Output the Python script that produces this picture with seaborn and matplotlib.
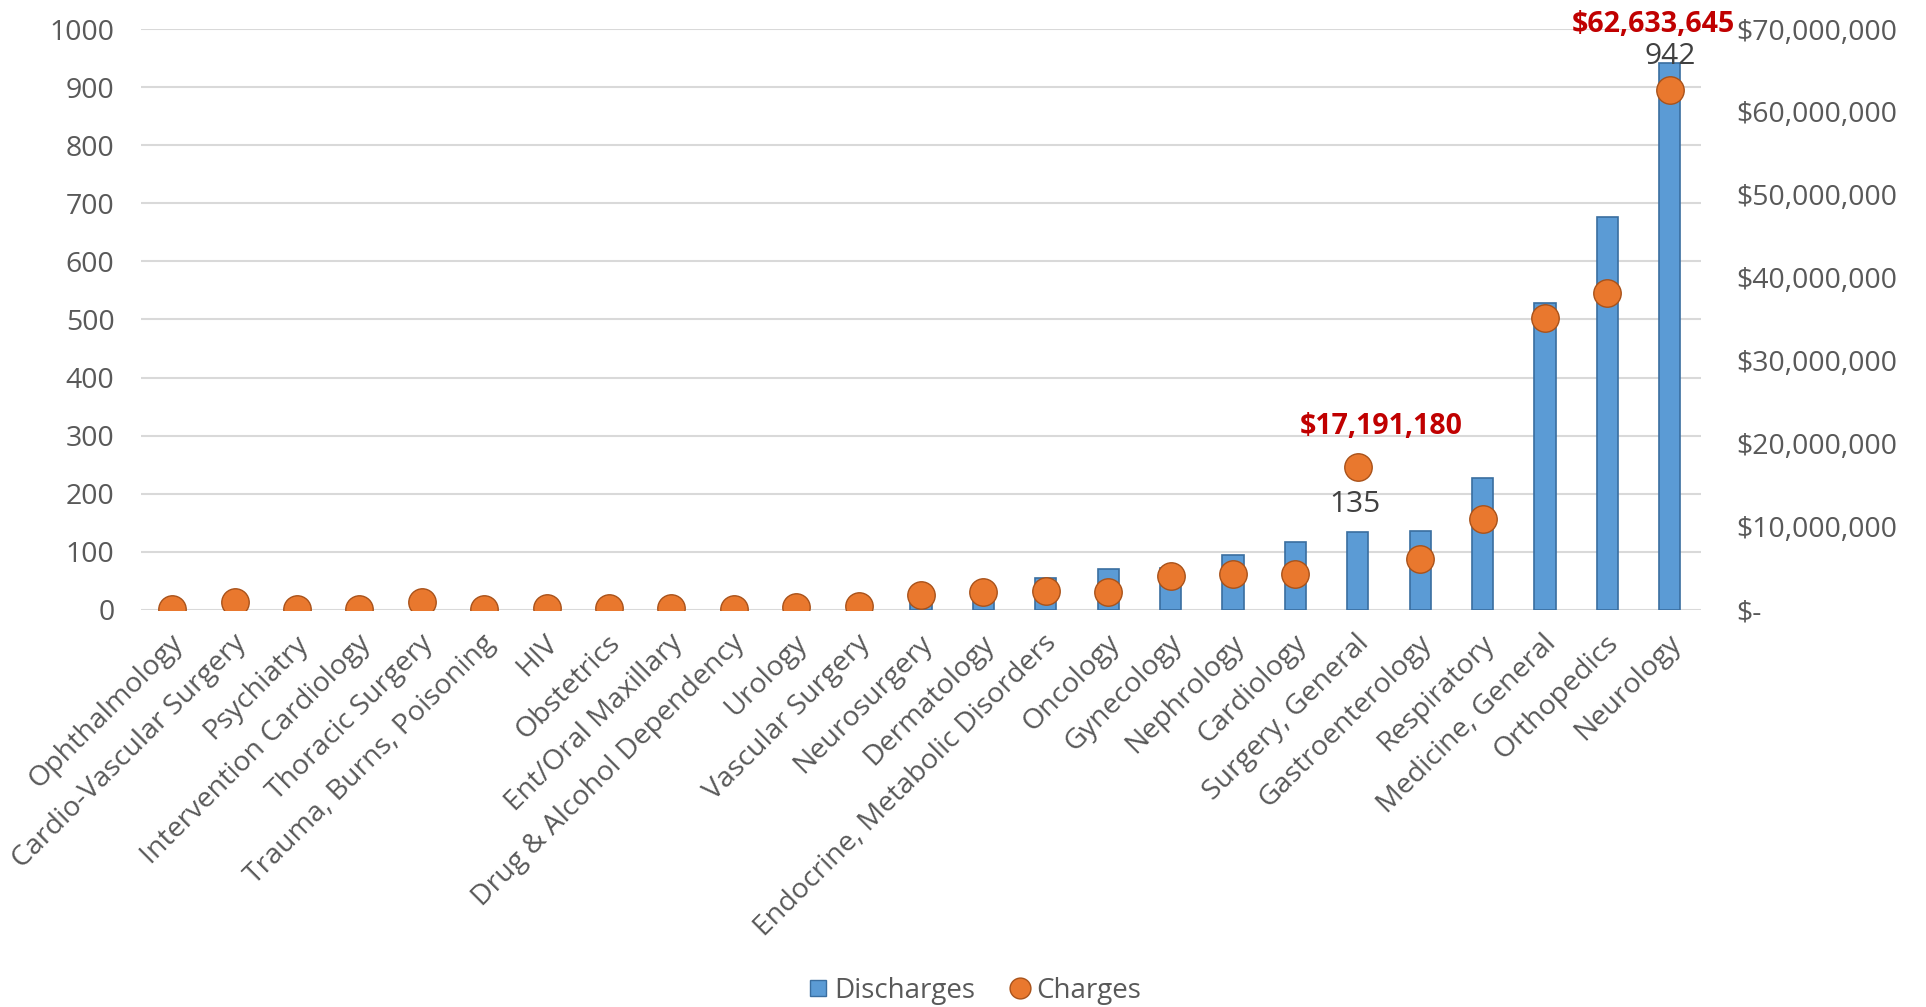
import numpy as np
import pandas as pd
import seaborn as sns
import matplotlib.pyplot as plt
from matplotlib.lines import Line2D
from matplotlib.ticker import FuncFormatter, MultipleLocator
from matplotlib.transforms import ScaledTranslation

departments = [
    "Ophthalmology", "Cardio-Vascular Surgery", "Psychiatry", "Intervention Cardiology",
    "Thoracic Surgery", "Trauma, Burns, Poisoning", "HIV", "Obstetrics",
    "Ent/Oral Maxillary", "Drug & Alcohol Dependency", "Urology", "Vascular Surgery",
    "Neurosurgery", "Dermatology", "Endocrine, Metabolic Disorders", "Oncology",
    "Gynecology", "Nephrology", "Cardiology", "Surgery, General", "Gastroenterology",
    "Respiratory", "Medicine, General", "Orthopedics", "Neurology",
]
discharges = [1, 3, 1, 1, 3, 1, 2, 2, 2, 1, 3, 4, 15, 42, 55, 71, 72, 95, 117,
              135, 136, 227, 528, 677, 942]
charges = [80000, 1000000, 120000, 160000, 1000000, 80000, 280000, 280000, 250000,
           80000, 360000, 530000, 1780000, 2150000, 2280000, 2160000, 4080000,
           4280000, 4280000, 17191180, 6080000, 10900000, 35200000, 38200000, 62633645]

df = pd.DataFrame({"dept": departments, "discharges": discharges, "charges": charges})
df["pos"] = np.arange(len(df))

plt.rcParams["font.family"] = ["Open Sans", "DejaVu Sans"]
grey = "#595959"
fs = 20.5

fig = plt.figure(figsize=(19.26, 10.07), dpi=100)
ax = fig.add_axes([0.0732, 0.3943, 0.810, 0.5769])

sns.barplot(data=df, x="dept", y="discharges", order=departments, color="#5B9BD5",
            saturation=1, width=0.34, edgecolor="#3A6EA0", linewidth=1.2, ax=ax, zorder=2)
ax.set_ylim(0, 1000)
ax.set_xlim(-0.5, len(df) - 0.5)
ax.yaxis.set_major_locator(MultipleLocator(100))
ax.grid(axis="y", color="#D9D9D9", linewidth=1.5, zorder=0)
ax.set_axisbelow(True)
ax.set_xlabel("")
ax.set_ylabel("")
for s in ax.spines.values():
    s.set_visible(False)
ax.tick_params(axis="y", length=0, pad=19, labelsize=fs, labelcolor=grey)
ax.tick_params(axis="x", length=0, pad=21, labelsize=fs, labelcolor=grey)
ax.set_xticks(df["pos"])
ax.set_xticklabels(departments, rotation=45, ha="right", va="center", rotation_mode="anchor")
shift = ScaledTranslation(7 / 100, 0, fig.dpi_scale_trans)
for lab in ax.get_xticklabels():
    lab.set_transform(lab.get_transform() + shift)

ax2 = ax.twinx()
sns.scatterplot(data=df, x="pos", y="charges", s=390, color="#E9782E",
                edgecolor="#A9521A", linewidth=1, ax=ax2, zorder=3, legend=False)
# small highlight so the dots read as spheres
glint = ScaledTranslation(-3 / 100, 3 / 100, fig.dpi_scale_trans)
hl = ax2.scatter(df["pos"], df["charges"], s=120, color="#F5A66A", linewidths=0,
                 alpha=0.85, zorder=4)
hl.set_transform(ax2.transData + glint)
ax2.set_ylim(0, 70000000)
ax2.set_xlim(-0.5, len(df) - 0.5)
ax2.yaxis.set_major_locator(MultipleLocator(10000000))
ax2.yaxis.set_major_formatter(FuncFormatter(lambda v, p: "$-" if v == 0 else f"${v:,.0f}"))
ax2.tick_params(axis="y", length=0, pad=25, labelsize=fs, labelcolor=grey)
ax2.set_xlabel("")
ax2.set_ylabel("")
for s in ax2.spines.values():
    s.set_visible(False)

# data labels
top = len(df) - 1
sg = departments.index("Surgery, General")
ax.annotate(f"{discharges[top]}", xy=(top, discharges[top]), xytext=(0, -1),
            textcoords="offset points", ha="center", va="baseline",
            fontsize=21.5, color="#404040", annotation_clip=False, zorder=5)
ax2.annotate(f"${charges[top]:,.0f}", xy=(top, charges[top]), xytext=(-12, 42),
             textcoords="offset points", ha="center", va="baseline",
             fontsize=20.5, fontweight="bold", color="#C00000", annotation_clip=False)
ax.annotate(f"{discharges[sg]}", xy=(sg, discharges[sg]), xytext=(-2, 14),
            textcoords="offset points", ha="center", va="baseline",
            fontsize=21.5, color="#404040")
ax2.annotate(f"${charges[sg]:,.0f}", xy=(sg, charges[sg]), xytext=(17, 24),
             textcoords="offset points", ha="center", va="baseline",
             fontsize=20.5, fontweight="bold", color="#C00000")

handles = [
    Line2D([], [], marker="s", linestyle="None", color="#5B9BD5",
           markeredgecolor="#3A6EA0", markersize=12),
    Line2D([], [], marker="o", linestyle="None", color="#E9782E",
           markeredgecolor="#A9521A", markersize=15),
]
fig.legend(handles, ["Discharges", "Charges"], loc="center", bbox_to_anchor=(0.505, 0.016),
           ncol=2, frameon=False, fontsize=20, labelcolor=grey,
           handletextpad=0.1, columnspacing=1.1, handlelength=1.0)

fig.savefig("out.png", dpi=100)
